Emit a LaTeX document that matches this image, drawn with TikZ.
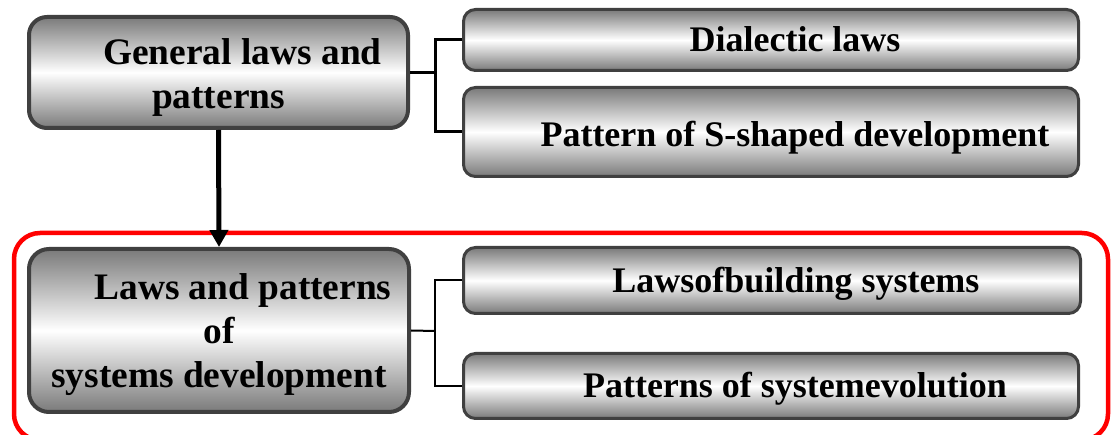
\documentclass[tikz,border=0pt]{standalone}
\usepackage{fontspec}
\setmainfont{Liberation Serif}
\usetikzlibrary{arrows.meta}
\definecolor{boxborder}{HTML}{404040}
\definecolor{boxgray}{HTML}{7A7A7A}
\definecolor{framered}{HTML}{FF0000}
\tikzset{
  gbox/.style={draw=boxborder, top color=boxgray, bottom color=boxgray, middle color=white,
    inner sep=0pt, align=center, font=\fontsize{36}{44}\selectfont\bfseries},
  leftbox/.style={gbox, line width=4pt, rounded corners=18pt, font=\fontsize{37.4}{44}\selectfont\bfseries},
  rightbox/.style={gbox, line width=3pt, rounded corners=12pt},
  bracket/.style={draw=black, line width=3pt},
  bracketthin/.style={draw=black, line width=2pt},
  mainarrow/.style={draw=black, line width=5pt, -{Triangle[width=18pt,length=17pt]}},
  redframe/.style={draw=framered, line width=4.5pt, rounded corners=26pt}
}
\begin{document}
\begin{tikzpicture}[x=1pt,y=-1pt]
\useasboundingbox (0,0) rectangle (1117,435);
\clip (0,0) rectangle (1117,435);
% red frame
\draw[redframe] (14,233) rectangle (1108,440);
% boxes
\node[leftbox, minimum width=379pt, minimum height=111pt] (A) at (218.5,72.5)
  {\rule{0pt}{36pt}\hspace*{48pt}General laws and\\patterns};
\node[rightbox, minimum width=615pt, minimum height=61pt, text height=32pt, text depth=8pt] (B) at (771,40)
  {\hspace*{48pt}Dialectic laws};
\node[rightbox, minimum width=615pt, minimum height=89pt, text height=40pt, text depth=10pt] (C) at (771,132)
  {\hspace*{48pt}Pattern of S-shaped development};
\node[leftbox, minimum width=380pt, minimum height=163pt, rounded corners=20pt] (E) at (219,330.5)
  {\rule{0pt}{35pt}\hspace*{48pt}Laws and patterns\\of\\systems development};
\node[rightbox, minimum width=617pt, minimum height=66pt, text height=33pt, text depth=8pt] (D) at (772,280.5)
  {\hspace*{48pt}Lawsofbuilding systems};
\node[rightbox, minimum width=615pt, minimum height=65pt, text height=32pt, text depth=8pt] (F) at (771,386)
  {\hspace*{48pt}Patterns of systemevolution};
% connectors
\coordinate (j1) at (435,72.5);
\coordinate (j2) at (435,331);
\draw[bracket] (A.east) -- (j1);
\draw[bracket] (B.west) -| (j1) |- (C.west);
\draw[bracketthin] (E.east) -- (j2);
\draw[bracketthin] (D.west) -| (j2) |- (F.west);
\draw[mainarrow] (A.south) -- (E.north);
\end{tikzpicture}
\end{document}
